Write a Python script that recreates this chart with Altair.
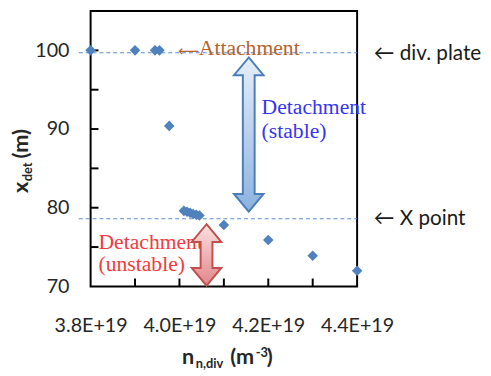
import altair as alt
import pandas as pd

# ---- data ----
n_div = [3.800e19, 3.900e19, 3.945e19, 3.955e19, 3.977e19,
         4.010e19, 4.017e19, 4.024e19, 4.031e19, 4.038e19, 4.045e19,
         4.100e19, 4.200e19, 4.300e19, 4.400e19]
x_det = [100.0, 100.0, 100.0, 100.0, 90.4,
         79.6, 79.5, 79.35, 79.2, 79.1, 79.0,
         77.8, 75.9, 73.9, 72.0]

x_ticks_labeled = [3.8e19, 4.0e19, 4.2e19, 4.4e19]
x_ticks_minor = [3.9e19, 4.0e19, 4.1e19, 4.2e19, 4.3e19]
y_ticks_labeled = [70, 80, 90, 100]
y_ticks_minor = [75, 80, 85, 90, 95, 100]

ref_levels = [99.7, 78.6]          # div. plate, X point (dashed)

# annotation anchors (data coords)
blue_arrow = {"n": 4.156e19, "top": 99.1, "bottom": 79.5}
red_arrow = {"n": 4.061e19, "top": 77.9, "bottom": 70.1}

W, H = 271, 280

xs = alt.Scale(domain=[3.8e19, 4.4e19], nice=False, zero=False)
ys = alt.Scale(domain=[70, 105], nice=False, zero=False)

LABEL_FONT = "Lato"
LABEL_COLOR = "#262626"

x_axis = alt.Axis(values=x_ticks_labeled, labelExpr="upper(format(datum.value, '.1e'))",
                  ticks=False, tickSize=0, domain=False, grid=False, title=None,
                  labelPadding=30, labelFont=LABEL_FONT, labelFontSize=20,
                  labelColor=LABEL_COLOR, labelFlush=False, labelOverlap=False,
                  labelBound=False)
y_axis = alt.Axis(values=y_ticks_labeled, ticks=False, tickSize=0, domain=False,
                  grid=False, title=None, labelPadding=22, labelFont=LABEL_FONT,
                  labelFontSize=20, labelColor=LABEL_COLOR, labelFlush=False,
                  labelOverlap=False, labelBound=False)


def X(field="n"):
    return alt.X(f"{field}:Q", scale=xs, axis=x_axis)


def Y(field="x"):
    return alt.Y(f"{field}:Q", scale=ys, axis=y_axis)


pts = pd.DataFrame({"n": n_div, "x": x_det})

dashed = alt.Chart(pd.DataFrame({"x": ref_levels})).mark_rule(
    strokeDash=[4, 3], color="#5B8FD0", strokeWidth=1.2
).encode(y=Y(), x=alt.value(-12), x2=alt.value(W))

xt = alt.Chart(pd.DataFrame({"n": x_ticks_minor})).mark_rule(
    color="black", strokeWidth=2
).encode(x=X(), y=alt.value(H), y2=alt.value(H - 8))

yt = alt.Chart(pd.DataFrame({"x": y_ticks_minor})).mark_rule(
    color="black", strokeWidth=2
).encode(y=Y(), x=alt.value(0), x2=alt.value(8))

points = alt.Chart(pts).mark_point(
    shape="diamond", filled=True, color="#4F81BD", size=115, opacity=1, strokeWidth=0
).encode(x=X(), y=Y())

# text annotations
serif = "Liberation Serif"
BROWN = "#B8622C"
attach_arrow = alt.Chart(pd.DataFrame({"n": [3.9965e19], "x": [99.95], "t": ["\u27f5"]})).mark_text(
    align="left", baseline="middle", font="DejaVu Sans", fontSize=15, color=BROWN
).encode(x=X(), y=Y(), text="t:N")

attach = alt.Chart(pd.DataFrame({"n": [4.0435e19], "x": [99.4], "t": ["Attachment"]})).mark_text(
    align="left", baseline="alphabetic", font=serif, fontSize=22, color=BROWN
).encode(x=X(), y=Y(), text="t:N")

stable = alt.Chart(pd.DataFrame({"n": [4.185e19, 4.185e19], "x": [91.9, 88.9],
                                 "t": ["Detachment", "(stable)"]})).mark_text(
    align="left", baseline="alphabetic", font=serif, fontSize=22, color="#3535F5"
).encode(x=X(), y=Y(), text="t:N")

unstable = alt.Chart(pd.DataFrame({"n": [3.8177e19, 3.8177e19], "x": [74.75, 72.0],
                                   "t": ["Detachment", "(unstable)"]})).mark_text(
    align="left", baseline="alphabetic", font=serif, fontSize=22, color="#F43B3B"
).encode(x=X(), y=Y(), text="t:N")

right_notes = alt.Chart(pd.DataFrame({"n": [4.4376e19, 4.4376e19], "x": [98.75, 77.75],
                                      "t": ["\u2190 div. plate", "\u2190 X point"]})).mark_text(
    align="left", baseline="alphabetic", font=LABEL_FONT, fontSize=21, color="#1a1a1a"
).encode(x=X(), y=Y(), text="t:N")


def arrow_path(half_h_px):
    # double-headed vertical arrow in unit square, head 18px tall, 30px wide, shaft 12px wide
    s = half_h_px
    hh = 18 / s
    hw = 15 / s
    sw = 6 / s
    yh = -1 + hh
    return (f"M0,-1 L{hw:.4f},{yh:.4f} L{sw:.4f},{yh:.4f} L{sw:.4f},{-yh:.4f} "
            f"L{hw:.4f},{-yh:.4f} L0,1 L{-hw:.4f},{-yh:.4f} L{-sw:.4f},{-yh:.4f} "
            f"L{-sw:.4f},{yh:.4f} L{-hw:.4f},{yh:.4f} Z")


def make_arrow(spec, light, dark, edge):
    top_px = (105 - spec["top"]) / 35 * H
    bot_px = (105 - spec["bottom"]) / 35 * H
    h = bot_px - top_px
    grad = alt.Gradient(gradient="linear",
                        stops=[alt.GradientStop(color=light, offset=0),
                               alt.GradientStop(color=dark, offset=1)],
                        x1=0, x2=0, y1=0, y2=1)
    df = pd.DataFrame({"n": [spec["n"]], "x": [(spec["top"] + spec["bottom"]) / 2]})
    return alt.Chart(df).mark_point(
        shape=arrow_path(h / 2), filled=True, fill=grad, stroke=edge, strokeWidth=2,
        size=h * h, opacity=1, fillOpacity=1
    ).encode(x=X(), y=Y())


blue = make_arrow(blue_arrow, "#E6EEF9", "#8CB2E0", "#4A7EBB")
red = make_arrow(red_arrow, "#FBE0E0", "#E3868A", "#C0504D")


# axis titles with sub/superscripts (pixel-positioned text)
def label(t, x, y, size, angle=0):
    return alt.Chart(pd.DataFrame({"t": [t]})).mark_text(
        align="left", baseline="alphabetic", font=LABEL_FONT, fontSize=size,
        fontWeight="bold", color=LABEL_COLOR, angle=angle
    ).encode(text="t:N", x=alt.value(x), y=alt.value(y))


titles = [
    label("x", -64, 185, 22, 270),
    label("det", -60, 173, 13, 270),
    label("(m)", -64, 150, 22, 270),
    label("n", 93, 359, 22),
    label("n,div", 107, 363, 13),
    label("(m", 142, 359, 22),
    label("-3", 168, 352, 13),
    label(")", 179, 359, 22),
]

chart = alt.layer(
    dashed, xt, yt, points, attach_arrow, attach, stable, unstable, right_notes,
    blue, red, *titles
).properties(
    width=W, height=H, autosize="none",
    padding={"left": 84, "top": 0, "right": 128, "bottom": 86}
).configure_view(stroke="black", strokeWidth=2)

chart.save("out.html", embed_options={"renderer": "svg", "actions": False})
